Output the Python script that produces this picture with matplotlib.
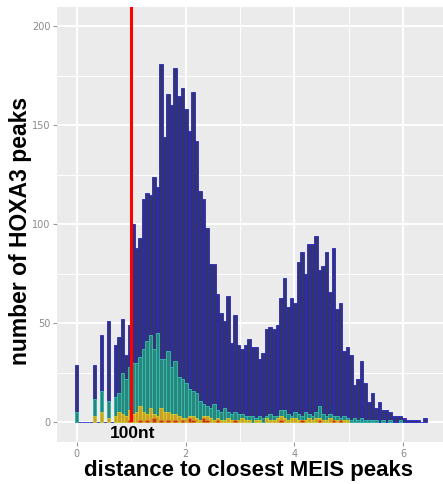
import numpy as np
import matplotlib
matplotlib.use("Agg")
import matplotlib.pyplot as plt

# log10 distance histogram, 100 bins from 0 to 6.4
x_max = 6.4
n_bins = 100

# all HOXA3 peaks
all_counts = [
    29, 0, 0, 0, 0, 29, 0, 44, 0, 51,
    0, 39, 43, 52, 34, 49, 100, 88, 93, 113,
    116, 115, 124, 119, 181, 144, 166, 160, 179, 165,
    169, 158, 147, 167, 142, 117, 113, 98, 80, 80,
    65, 55, 51, 64, 40, 54, 39, 37, 39, 42,
    38, 38, 32, 35, 47, 48, 47, 49, 63, 73,
    58, 63, 60, 81, 86, 75, 90, 90, 94, 77,
    79, 86, 66, 88, 57, 60, 36, 38, 34, 19,
    22, 31, 20, 10, 15, 7, 10, 6, 6, 5,
    3, 3, 3, 2, 1, 1, 1, 1, 0, 2,
]

# peaks in the second group
teal_counts = [
    5, 0, 0, 0, 0, 12, 0, 16, 0, 11,
    0, 13, 15, 25, 22, 28, 30, 30, 33, 37,
    41, 44, 37, 45, 32, 32, 36, 28, 31, 23,
    22, 20, 17, 16, 15, 11, 9, 8, 7, 9,
    6, 5, 7, 5, 4, 5, 4, 4, 3, 3,
    3, 2, 3, 2, 3, 4, 3, 3, 6, 6,
    4, 3, 5, 4, 3, 5, 4, 3, 5, 8,
    4, 3, 4, 3, 3, 2, 3, 2, 1, 2,
    1, 2, 1, 1, 1, 1, 0, 1, 0, 1,
    0, 0, 1, 0, 0, 0, 0, 0, 0, 0,
]

yellow_counts = [
    0, 0, 0, 0, 0, 3, 0, 5, 0, 2,
    0, 3, 5, 4, 3, 6, 4, 5, 8, 5,
    4, 7, 4, 3, 7, 5, 5, 4, 4, 3,
    2, 2, 3, 3, 2, 1, 3, 3, 2, 1,
    2, 1, 1, 2, 1, 1, 1, 2, 1, 1,
    0, 1, 1, 0, 2, 1, 1, 2, 3, 2,
    1, 2, 2, 1, 1, 1, 2, 1, 2, 2,
    1, 1, 2, 1, 1, 0, 1, 1, 0, 0,
    0, 0, 0, 0, 0, 0, 0, 0, 0, 0,
    0, 0, 0, 0, 0, 0, 0, 0, 0, 0,
]

red_counts = [
    0, 0, 0, 0, 0, 0, 0, 0, 0, 0,
    0, 0, 0, 0, 0, 1, 0, 0, 1, 0,
    1, 0, 2, 0, 1, 0, 1, 0, 1, 0,
    1, 0, 2, 1, 0, 0, 2, 1, 0, 0,
    1, 0, 0, 0, 0, 1, 0, 0, 0, 0,
    0, 0, 0, 0, 0, 0, 0, 0, 1, 0,
    0, 0, 0, 0, 1, 0, 0, 0, 0, 1,
    0, 0, 0, 1, 0, 1, 0, 0, 0, 0,
    0, 0, 0, 0, 0, 0, 0, 0, 0, 0,
    0, 0, 0, 0, 0, 0, 0, 0, 0, 0,
]

cutoff = 1.0
cutoff_label = "100nt"

bw = x_max / (n_bins - 1)
centers = np.arange(n_bins) * bw

fig = plt.figure(figsize=(4.43, 4.84), dpi=100)
ax = fig.add_axes([0.1293, 0.0874, 0.8707, 0.8988])
ax.set_facecolor("#EBEBEB")

# ggplot-like grid
for v in [1, 3, 5]:
    ax.axvline(v, color="white", lw=0.7, zorder=0)
for v in [25, 75, 125, 175]:
    ax.axhline(v, color="white", lw=0.7, zorder=0)
for v in [0, 2, 4, 6]:
    ax.axvline(v, color="white", lw=1.4, zorder=0)
for v in [0, 50, 100, 150, 200]:
    ax.axhline(v, color="white", lw=1.4, zorder=0)


def draw_layer(counts, fill, edge, z, keep_zero=False, lw=0.6):
    counts = np.asarray(counts)
    mask = np.ones(len(counts), bool) if keep_zero else counts > 0
    ax.bar(centers[mask], counts[mask], width=bw, color=fill,
           edgecolor=edge, linewidth=lw, zorder=z)


draw_layer(all_counts, "#34346e", "#2626c8", 2, keep_zero=True)
draw_layer(teal_counts, "#2a867c", "#33c2b2", 3)
draw_layer(yellow_counts, "#c9a02a", "#e8d426", 4, lw=0.5)
draw_layer(red_counts, "#b8361e", "#e87a20", 5, lw=0.5)

ax.plot([cutoff, cutoff], [1, 215], color="#ff0000", lw=2.2, zorder=6)
ax.text(cutoff + 0.03, -5.8, cutoff_label, ha="center", va="center",
        fontsize=12.5, fontweight="bold", family="Liberation Sans", zorder=7)

ax.set_xlim(-0.357, 6.73)
ax.set_ylim(-9.8, 209.9)
ax.set_xticks([0, 2, 4, 6])
ax.set_yticks([0, 50, 100, 150, 200])
ax.tick_params(axis="both", length=3, width=0.8, color="#9a9a9a",
               labelsize=7, labelcolor="#8a8a8a", pad=2)
for s in ax.spines.values():
    s.set_visible(False)

fig.text(0.562, 0.016, "distance to closest MEIS peaks", ha="center",
         va="baseline", fontsize=16, fontweight="bold", family="Liberation Sans")
fig.text(0.046, 0.523, "number of HOXA3 peaks", ha="center", va="center",
         rotation=90, fontsize=16.5, fontweight="bold", family="Liberation Sans")

fig.savefig("out.png", dpi=100)
